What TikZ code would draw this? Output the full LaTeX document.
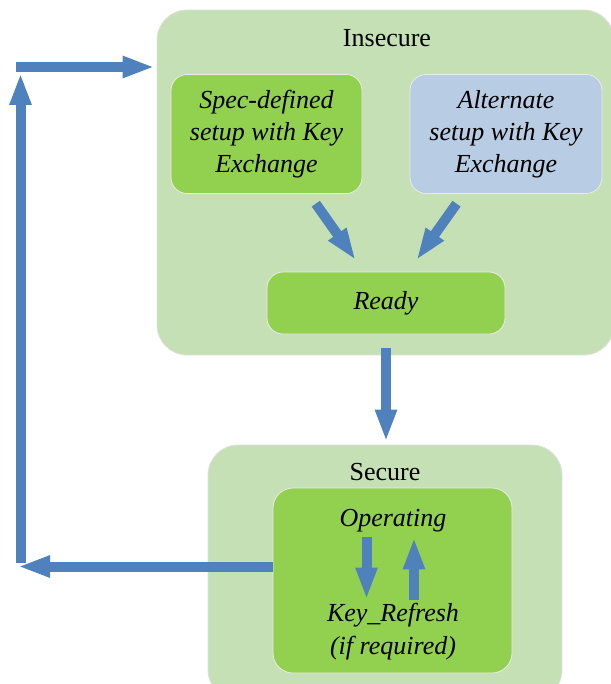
\documentclass[tikz,border=0pt]{standalone}
\usepackage{fontspec}
\setmainfont{Liberation Serif}
\usetikzlibrary{arrows.meta}
\definecolor{zonegreen}{HTML}{C5E0B4}
\definecolor{stategreen}{HTML}{92D050}
\definecolor{stateblue}{HTML}{B8CCE4}
\definecolor{flowblue}{HTML}{4F81BD}
\begin{document}
\fontsize{13}{16}\selectfont
\begin{tikzpicture}[x=0.5pt, y=-0.5pt,
        zone/.style={draw=black!12, fill=zonegreen, rounded corners=15pt},
        state/.style={draw=black!8, fill=stategreen, rounded corners=8pt, align=center, font=\itshape},
        blockarrow/.style={flowblue, line width=5pt, -{Triangle[length=16pt, width=10pt]}}]
    \useasboundingbox (0,0) rectangle (610,684);

    \node[zone, minimum width=228.5pt, minimum height=172.5pt] (insecure) at (385.5,182.5) {};
    \node[zone, minimum width=177pt, minimum height=127.5pt] (secure) at (385,572.5) {};
    \node (insecurelabel) at (387,38) {Insecure};
    \node (securelabel) at (385,472) {Secure};

    \node[state, minimum width=95.5pt, minimum height=59.5pt] (spec) at (266.5,134) {Spec-defined\\setup with Key\\Exchange};
    \node[state, fill=stateblue, minimum width=96pt, minimum height=59.5pt] (alternate) at (506,134) {Alternate\\setup with Key\\Exchange};
    \node[state, minimum width=119pt, minimum height=31pt] (ready) at (386,303) {Ready};
    \node[state, rounded corners=10pt, minimum width=119.5pt, minimum height=92.5pt] (operating) at (392.5,580.5) {};
    \node[font=\itshape] (oplabel) at (393,521) {Operating};
    \node[font=\itshape, align=center, font=\itshape\fontsize{13}{16.5}\selectfont] (keylabel) at (393,631.5) {Key\_Refresh\\(if required)};

    \draw[blockarrow, shorten <=6pt, shorten >=7pt] (spec) -- (ready);
    \draw[blockarrow, shorten <=6pt, shorten >=7pt] (alternate) -- (ready);
    \draw[blockarrow, shorten <=7pt, shorten >=1.5pt] (ready) -- (ready |- secure.north);
    \draw[blockarrow, shorten <=-2pt, shorten >=-2.75pt] ([xshift=-13.25pt]oplabel.south) -- ([xshift=-13.25pt]keylabel.north);
    \draw[blockarrow, shorten <=-2.75pt, shorten >=-2pt] ([xshift=10.5pt]keylabel.north) -- ([xshift=10.5pt]oplabel.south);

    % way back to the start
    \coordinate (loopsw) at (18,566.5);
    \coordinate (loopbase) at (20.5,563);
    \coordinate (loopnw) at (20.5,73);
    \coordinate (loopstart) at (16,67);
    \draw[blockarrow] (operating.west |- loopsw) -- (loopsw);
    \draw[blockarrow] (loopbase) -- (loopnw);
    \draw[blockarrow, shorten >=1pt] (loopstart) -- (insecure.west |- loopstart);
\end{tikzpicture}
\end{document}
